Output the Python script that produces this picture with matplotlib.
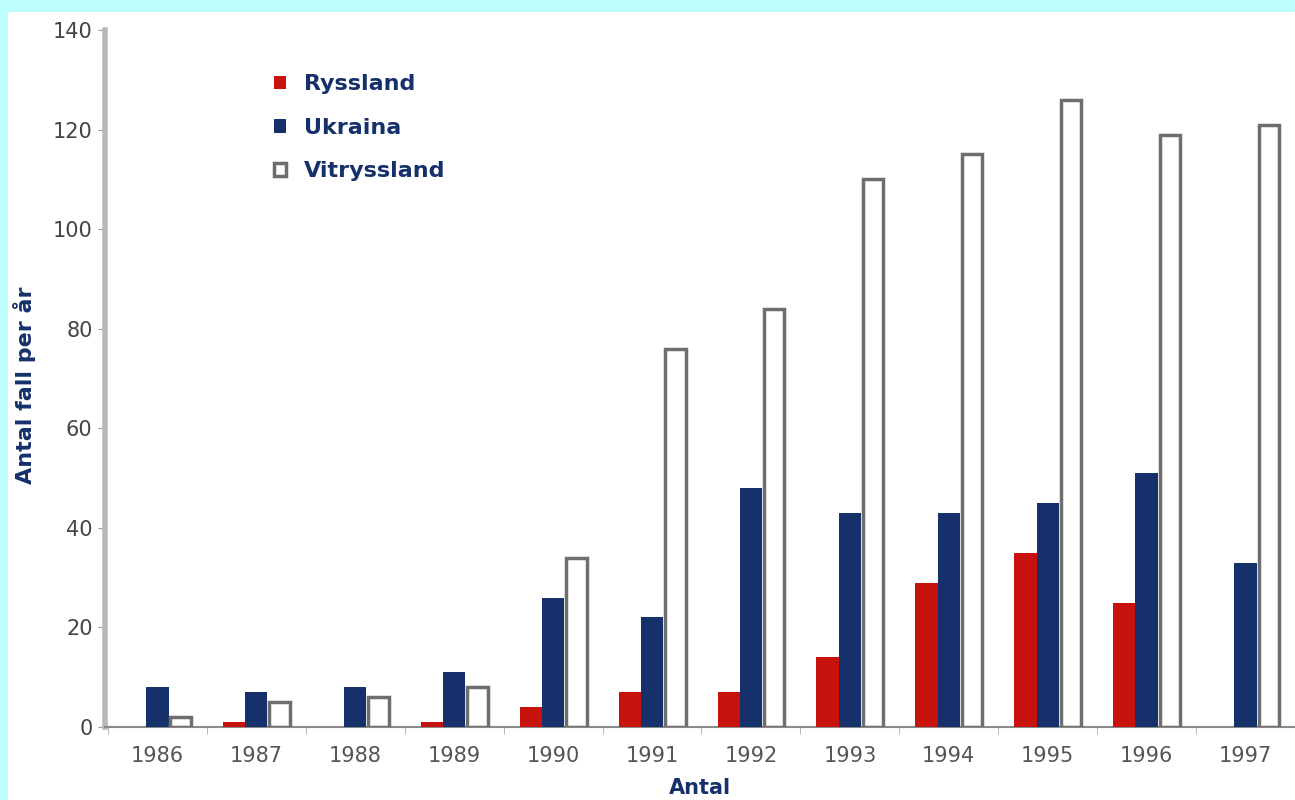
import matplotlib
matplotlib.use("Agg")
import matplotlib.pyplot as plt
from matplotlib.patches import Rectangle
import numpy as np

# data
years = ["1986", "1987", "1988", "1989", "1990", "1991",
         "1992", "1993", "1994", "1995", "1996", "1997"]
ryssland = [0, 1, 0, 1, 4, 7, 7, 14, 29, 35, 25, 0]
ukraina = [8, 7, 8, 11, 26, 22, 48, 43, 43, 45, 51, 33]
vitryssland = [2, 5, 6, 8, 34, 76, 84, 110, 115, 126, 119, 121]

navy = "#15306b"
red = "#c8120e"
grey = "#6e6e6e"

fig = plt.figure(figsize=(12.95, 8), dpi=100, facecolor="#bffeff")
# white panel inside the cyan frame
fig.patches.append(Rectangle((8 / 1295, 0), 1, 1 - 12 / 800, transform=fig.transFigure,
                             facecolor="white", edgecolor="none", zorder=-5))

ax = fig.add_axes([105 / 1295, 73 / 800, 1190 / 1295, 697 / 800])
ax.set_facecolor("none")

x = np.arange(len(years))
w = 0.225
b1 = ax.bar(x - w, ryssland, w, color=red, label="Ryssland", zorder=3)
b2 = ax.bar(x, ukraina, w, color=navy, label="Ukraina", zorder=3)
b3 = ax.bar(x + w + 0.01, vitryssland, w * 0.92, color="white", edgecolor=grey,
            linewidth=2.5, label="Vitryssland", zorder=3)

ax.set_ylim(0, 140)
ax.set_xlim(-0.53, 11.43)
ax.set_yticks(range(0, 141, 20))
ax.set_xticks(x)
ax.set_xticklabels(years)
ax.set_xticks(np.arange(-0.5, 11.6, 1), minor=True)

for s in ["top", "right"]:
    ax.spines[s].set_visible(False)
ax.spines["left"].set_color("#b8b8b8")
ax.spines["left"].set_linewidth(4)
ax.spines["bottom"].set_color("#8a8a8a")
ax.spines["bottom"].set_linewidth(1.5)

ax.tick_params(axis="y", length=5, color="#999999", labelsize=15,
               labelcolor="#444444", pad=4)
ax.tick_params(axis="x", which="major", length=0, labelsize=15,
               labelcolor="#555555", pad=14)
ax.tick_params(axis="x", which="minor", length=5, color="#aaaaaa", direction="out")

leg = ax.legend(handles=[b1, b2, b3], loc="upper left", bbox_to_anchor=(0.125, 0.965),
                frameon=False, handlelength=0.55, handleheight=0.55, handletextpad=0.8,
                labelspacing=1.05, prop={"weight": "bold", "size": 16})
for t in leg.get_texts():
    t.set_color(navy)

fig.text(25 / 1295, 1 - 385 / 800, "Antal fall per år", rotation=90, ha="center",
         va="center", color=navy, fontsize=16, fontweight="bold")
fig.text(700 / 1295, 2 / 800, "Antal", ha="center", va="bottom", color=navy,
         fontsize=15, fontweight="bold")

fig.savefig("out.png", dpi=100, facecolor=fig.get_facecolor())
